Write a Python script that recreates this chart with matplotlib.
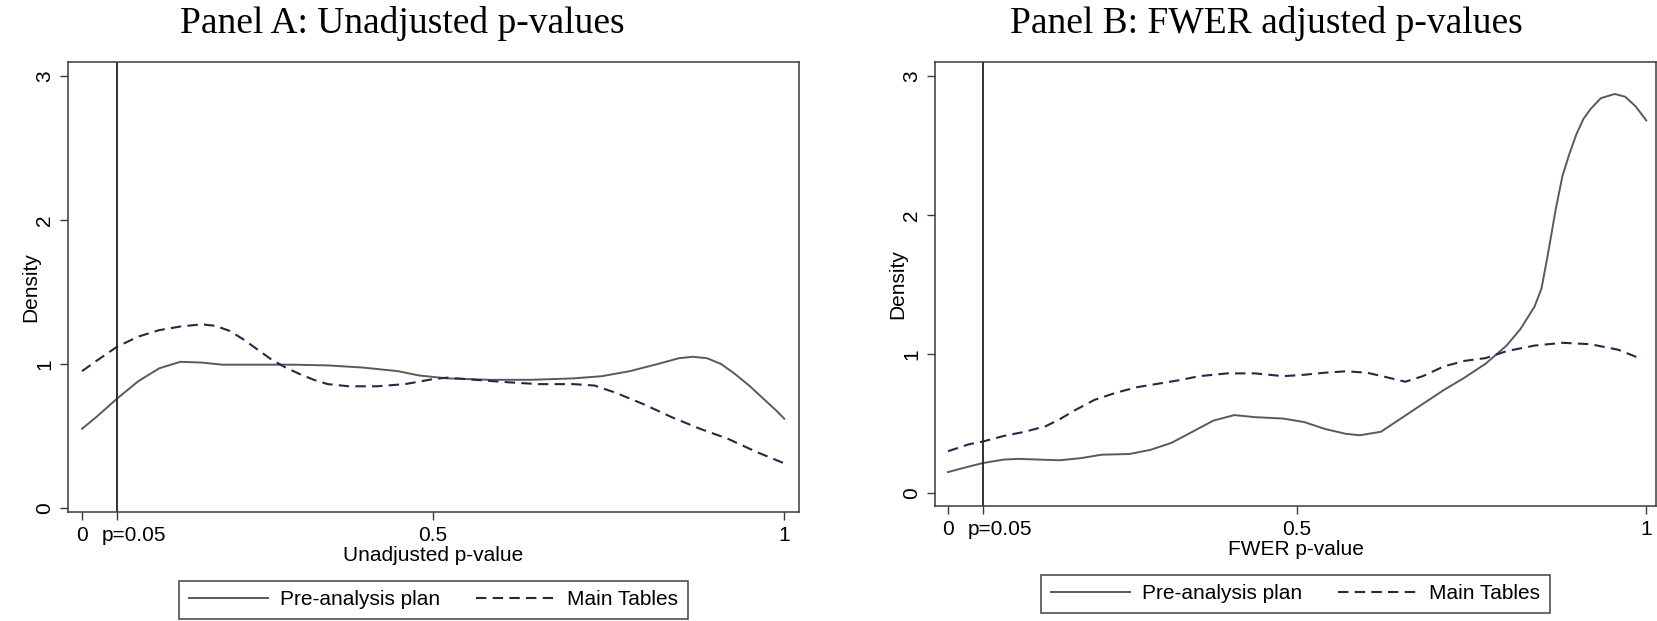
import matplotlib
matplotlib.use("Agg")
import matplotlib.pyplot as plt

# Panel A: unadjusted p-values (kernel density)
xa_pap = [0.00, 0.02, 0.05, 0.08, 0.11, 0.14, 0.17, 0.20, 0.25, 0.30, 0.35, 0.40, 0.45, 0.48,
          0.52, 0.58, 0.64, 0.70, 0.74, 0.78, 0.82, 0.85, 0.87, 0.89, 0.91, 0.93, 0.95, 0.97,
          0.99, 1.00]
ya_pap = [0.55, 0.63, 0.76, 0.88, 0.97, 1.015, 1.01, 0.995, 0.995, 0.995, 0.99, 0.975, 0.95, 0.92,
          0.90, 0.89, 0.89, 0.90, 0.915, 0.95, 1.00, 1.04, 1.05, 1.04, 1.00, 0.93, 0.85, 0.76,
          0.67, 0.62]
xa_main = [0.00, 0.02, 0.05, 0.08, 0.11, 0.14, 0.17, 0.19, 0.21, 0.23, 0.25, 0.27, 0.29, 0.31,
           0.33, 0.35, 0.38, 0.42, 0.46, 0.50, 0.52, 0.56, 0.60, 0.65, 0.70, 0.73, 0.76, 0.80,
           0.84, 0.88, 0.92, 0.96, 1.00]
ya_main = [0.95, 1.02, 1.12, 1.19, 1.235, 1.26, 1.275, 1.265, 1.23, 1.17, 1.10, 1.03, 0.975, 0.93,
           0.89, 0.86, 0.845, 0.845, 0.86, 0.895, 0.905, 0.89, 0.875, 0.86, 0.86, 0.85, 0.80, 0.72,
           0.63, 0.55, 0.48, 0.39, 0.31]

# Panel B: FWER adjusted p-values
xb_pap = [0.00, 0.03, 0.05, 0.08, 0.10, 0.13, 0.16, 0.19, 0.22, 0.26, 0.29, 0.32, 0.35, 0.38,
          0.41, 0.44, 0.48, 0.51, 0.54, 0.57, 0.59, 0.62, 0.65, 0.68, 0.71, 0.74, 0.77, 0.80,
          0.82, 0.84, 0.85, 0.86, 0.87, 0.88, 0.89, 0.90, 0.91, 0.92, 0.935, 0.955, 0.97, 0.985,
          1.00]
yb_pap = [0.15, 0.19, 0.215, 0.24, 0.245, 0.24, 0.235, 0.25, 0.275, 0.28, 0.31, 0.36, 0.44, 0.52,
          0.56, 0.545, 0.535, 0.51, 0.46, 0.425, 0.415, 0.44, 0.54, 0.64, 0.74, 0.83, 0.93, 1.06,
          1.18, 1.34, 1.47, 1.74, 2.03, 2.28, 2.44, 2.58, 2.69, 2.76, 2.84, 2.87, 2.85, 2.78,
          2.68]
xb_main = [0.00, 0.03, 0.05, 0.08, 0.11, 0.14, 0.16, 0.18, 0.21, 0.24, 0.27, 0.30, 0.33, 0.36,
           0.40, 0.44, 0.48, 0.51, 0.54, 0.57, 0.60, 0.63, 0.655, 0.68, 0.71, 0.74, 0.77, 0.80,
           0.84, 0.88, 0.92, 0.96, 0.99]
yb_main = [0.30, 0.35, 0.37, 0.41, 0.44, 0.48, 0.53, 0.59, 0.67, 0.72, 0.76, 0.785, 0.81, 0.84,
           0.86, 0.86, 0.84, 0.85, 0.865, 0.875, 0.865, 0.83, 0.80, 0.84, 0.91, 0.95, 0.97, 1.02,
           1.06, 1.08, 1.07, 1.03, 0.97]

xticks = [0, 0.05, 0.5, 1]
xtick_labels = ["0", "", "0.5", "1"]
p_cut = 0.05
p_label = "p=0.05"
yticks = [0, 1, 2, 3]

plt.rcParams['font.family'] = ['Liberation Sans', 'DejaVu Sans']

fig = plt.figure(figsize=(16.57, 6.21), dpi=100)
W, H = 1657, 621

panels = [
    dict(rect=(68, 62, 799, 512), xlim=(-0.02, 1.021), ylim=(-0.028, 3.097),
         pap=(xa_pap, ya_pap), main=(xa_main, ya_main), leg_top=581,
         xlabel="Unadjusted p-value", title="Panel A: Unadjusted p-values", title_x=402),
    dict(rect=(935, 62, 1656, 506), xlim=(-0.0186, 1.014), ylim=(-0.094, 3.10),
         pap=(xb_pap, yb_pap), main=(xb_main, yb_main), leg_top=575,
         xlabel="FWER p-value", title="Panel B: FWER adjusted p-values", title_x=1266),
]

solid_col = "#5a5a5a"
dash_col = "#25284a"
frame_col = "#3a3a3a"

for p in panels:
    l, t, r, b = p["rect"]
    ax = fig.add_axes([l / W, 1 - b / H, (r - l) / W, (b - t) / H])
    ax.plot(*p["pap"], color=solid_col, lw=1.4, label="Pre-analysis plan")
    ax.plot(*p["main"], color=dash_col, lw=1.5, dashes=(5.0, 3.0), label="Main Tables")
    ax.axvline(p_cut, color="#222222", lw=1.3)
    ax.set_xlim(*p["xlim"])
    ax.set_ylim(*p["ylim"])
    ax.set_xticks(xticks)
    ax.set_xticklabels(xtick_labels)
    ax.set_yticks(yticks)
    ax.tick_params(axis="both", length=6, width=1.0, color=frame_col, labelsize=15, pad=4)
    for lab in ax.get_yticklabels():
        lab.set_rotation(90)
        lab.set_va("center")
    # the p=0.05 label sits a little to the right of its tick, as in the original
    ax.annotate(p_label, xy=(p_cut, 0), xycoords=ax.get_xaxis_transform(),
                xytext=(-11, -10), textcoords="offset points", ha="left", va="top", fontsize=15)
    for s in ax.spines.values():
        s.set_color(frame_col)
        s.set_linewidth(1.1)
    ax.set_xlabel(p["xlabel"], fontsize=15, labelpad=1)
    ax.set_ylabel("Density", fontsize=15)
    ax.yaxis.set_label_coords(-28 / (r - l), 0.5)
    ax.legend(loc="upper center", bbox_to_anchor=(0.5, -(p["leg_top"] - b) / (b - t)),
              ncol=2, fontsize=15, frameon=True, fancybox=False, edgecolor="#111111",
              handlelength=3.8, handletextpad=0.6, columnspacing=1.7, borderpad=0.45,
              borderaxespad=0)
    ax.get_legend().get_frame().set_linewidth(1.1)
    fig.text(p["title_x"] / W, 1 - 33 / H, p["title"], ha="center", va="baseline",
             fontsize=27, family=["Liberation Serif", "DejaVu Serif"])

fig.savefig("out.png", dpi=100)
